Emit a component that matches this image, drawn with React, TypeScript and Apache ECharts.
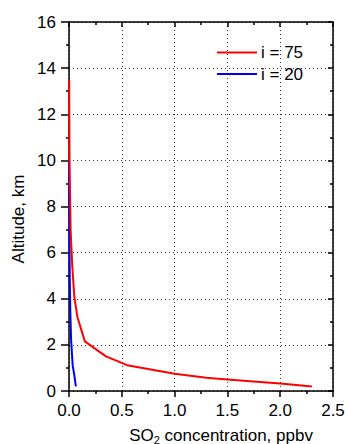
import React, { useEffect, useRef } from "react";
import * as echarts from "echarts";

const xTicks = [0, 0.5, 1.0, 1.5, 2.0, 2.5];
const yTicks = [0, 2, 4, 6, 8, 10, 12, 14, 16];

const seriesNames = ["i = 75", "i = 20"];

// [concentration (ppbv), altitude (km)]
const red75: [number, number][] = [
  [2.3, 0.2], [2.0, 0.33], [1.5, 0.5], [1.3, 0.57], [1.0, 0.75], [0.55, 1.12],
  [0.35, 1.5], [0.15, 2.15], [0.08, 3.2], [0.05, 4.1], [0.03, 5.5], [0.015, 7],
  [0.008, 9], [0.005, 10], [0.003, 12], [0.002, 13.5],
];
const blue20: [number, number][] = [
  [0.065, 0.2], [0.05, 0.7], [0.035, 1.1], [0.02, 2.2], [0.012, 3.5],
  [0.007, 5], [0.004, 7], [0.002, 8.5], [0.001, 10],
];

const FONT = "'Liberation Sans', Arial, sans-serif";
const FS = 17;

export default function App() {
  const ref = useRef<HTMLDivElement>(null);
  useEffect(() => {
    const chart = echarts.init(ref.current!, null, { renderer: "svg" });
    const split = {
      show: true,
      lineStyle: { color: "#333", type: [1, 3] as any, width: 1 },
    };
    chart.setOption({
      animation: false,
      backgroundColor: "#fff",
      textStyle: { fontFamily: FONT },
      grid: { left: 69, top: 22, right: 15, bottom: 53, containLabel: false },
      legend: {
        data: seriesNames,
        orient: "vertical",
        left: 217,
        top: 44,
        padding: 0,
        icon: "rect",
        itemWidth: 40,
        itemHeight: 2,
        itemGap: 4.5,
        textStyle: { fontSize: FS, color: "#000", fontFamily: FONT, lineHeight: 17, padding: [0, 0, 0, -1] },
      },
      xAxis: [
        {
          type: "value",
          min: xTicks[0],
          max: xTicks[xTicks.length - 1],
          interval: 0.5,
          position: "bottom",
          axisLine: { show: true, onZero: false, lineStyle: { color: "#000", width: 1.5 } },
          axisTick: { show: true, inside: false, length: 6, lineStyle: { color: "#000", width: 1.5 } },
          minorTick: { show: true, splitNumber: 2, length: 3, lineStyle: { color: "#000", width: 1.5 } },
          axisLabel: {
            color: "#000",
            fontSize: FS,
            fontFamily: FONT,
            margin: 11,
            formatter: (v: number) => v.toFixed(1),
          },
          splitLine: split,
        },
        {
          type: "value",
          min: xTicks[0],
          max: xTicks[xTicks.length - 1],
          interval: 0.5,
          position: "top",
          axisLine: { show: true, onZero: false, lineStyle: { color: "#000", width: 1.5 } },
          axisTick: { show: true, inside: true, length: 5, lineStyle: { color: "#000", width: 1.5 } },
          minorTick: { show: true, splitNumber: 2, length: 3, lineStyle: { color: "#000", width: 1.5 } },
          axisLabel: { show: false },
          splitLine: { show: false },
        },
      ],
      yAxis: [
        {
          type: "value",
          min: yTicks[0],
          max: yTicks[yTicks.length - 1],
          interval: 2,
          position: "left",
          axisLine: { show: true, onZero: false, lineStyle: { color: "#000", width: 1.5 } },
          axisTick: { show: true, inside: false, length: 8, lineStyle: { color: "#000", width: 1.5 } },
          minorTick: { show: true, splitNumber: 2, length: 3, lineStyle: { color: "#000", width: 1.5 } },
          axisLabel: { color: "#000", fontSize: FS, fontFamily: FONT, margin: 13 },
          splitLine: split,
        },
        {
          type: "value",
          min: yTicks[0],
          max: yTicks[yTicks.length - 1],
          interval: 2,
          position: "right",
          axisLine: { show: true, onZero: false, lineStyle: { color: "#000", width: 1.5 } },
          axisTick: { show: true, inside: true, length: 5, lineStyle: { color: "#000", width: 1.5 } },
          minorTick: { show: true, splitNumber: 2, length: 3, lineStyle: { color: "#000", width: 1.5 } },
          axisLabel: { show: false },
          splitLine: { show: false },
        },
      ],
      graphic: [
        {
          type: "text",
          x: 18,
          y: 219,
          rotation: Math.PI / 2,
          style: {
            text: "Altitude, km",
            fontSize: FS,
            fontFamily: FONT,
            fill: "#000",
            align: "center",
            verticalAlign: "middle",
          },
        },
        {
          type: "text",
          x: 221,
          y: 435,
          style: {
            text: "SO{sub|2} concentration, ppbv",
            fontSize: FS,
            fontFamily: FONT,
            fill: "#000",
            align: "center",
            verticalAlign: "middle",
            rich: {
              sub: { fontSize: 11, fontFamily: FONT, fill: "#000", padding: [9, 0, 0, 0] },
            },
          },
        },
      ],
      series: [
        {
          name: seriesNames[1],
          type: "line",
          data: blue20,
          showSymbol: false,
          symbol: "none",
          lineStyle: { color: "#0000ff", width: 2 },
          itemStyle: { color: "#0000ff" },
          z: 3,
        },
        {
          name: seriesNames[0],
          type: "line",
          data: red75,
          showSymbol: false,
          symbol: "none",
          lineStyle: { color: "#ff0000", width: 2 },
          itemStyle: { color: "#ff0000" },
          z: 4,
        },
      ],
    });
    return () => chart.dispose();
  }, []);
  return <div ref={ref} style={{ width: 348, height: 444, position: "absolute", left: 0, top: 0 }} />;
}
